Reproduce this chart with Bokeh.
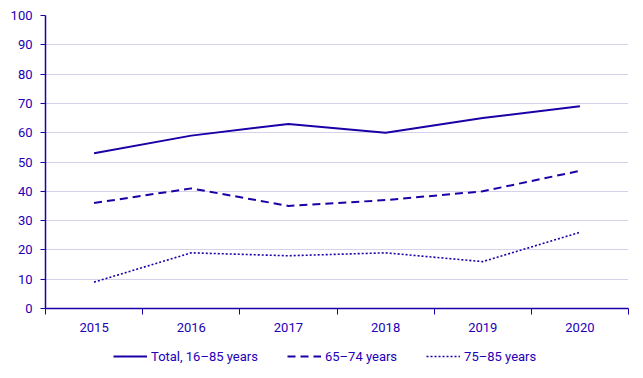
from bokeh.plotting import figure
from bokeh.models import FixedTicker, Legend, LegendItem, Range1d
from bokeh.layouts import column
from bokeh.embed import file_html
from bokeh.resources import INLINE

years = [2015, 2016, 2017, 2018, 2019, 2020]
total = [53, 59, 63, 60, 65, 69]
age_65_74 = [36, 41, 35, 37, 40, 47]
age_75_85 = [9, 19, 18, 19, 16, 26]
y_ticks = [0, 10, 20, 30, 40, 50, 60, 70, 80, 90, 100]
series_labels = ["Total, 16\u201385 years", "65\u201374 years", "75\u201385 years"]

TEXT = "#2200B8"
LINE = "#1A00A6"
FONT = "Roboto"
styles = [dict(line_width=2), dict(line_width=2, line_dash="8 5"), dict(line_width=1.6, line_dash="2 2")]
series = [total, age_65_74, age_75_85]

p = figure(width=635, height=340, output_backend="svg", toolbar_location=None,
           x_range=Range1d(years[0] - 0.5, years[-1] + 0.5), y_range=Range1d(0, 100),
           min_border_left=45, min_border_right=7, min_border_top=15, min_border_bottom=32)
p.outline_line_color = None
p.background_fill_color = "white"
p.border_fill_color = "white"

for vals, st in zip(series, styles):
    p.line(years, vals, line_color=LINE, **st)

xt = FixedTicker(ticks=years, minor_ticks=[y - 0.5 for y in years] + [years[-1] + 0.5])
p.xaxis.ticker = xt
p.xaxis.major_tick_out = 0
p.xaxis.major_tick_in = 0
p.xaxis.minor_tick_out = 6
p.xaxis.minor_tick_in = 0
p.xaxis.minor_tick_line_color = LINE
p.xaxis.major_label_standoff = 8
p.xgrid.grid_line_color = None

p.yaxis.ticker = FixedTicker(ticks=y_ticks)
p.yaxis.major_tick_out = 5
p.yaxis.major_tick_in = 0
p.yaxis.minor_tick_line_color = None
p.yaxis.major_label_standoff = 8
p.ygrid.grid_line_color = "#D4D2EA"
p.ygrid.grid_line_width = 1

for ax in (p.xaxis, p.yaxis):
    ax.axis_line_color = LINE
    ax.axis_line_width = 1.5
    ax.major_tick_line_color = LINE
    ax.major_label_text_color = TEXT
    ax.major_label_text_font = FONT
    ax.major_label_text_font_size = "13px"

# legend strip (series drawn off-range so only the legend samples show)
lg = figure(width=635, height=30, output_backend="svg", toolbar_location=None,
            x_range=Range1d(0, 1), y_range=Range1d(0, 1),
            min_border_left=0, min_border_right=0, min_border_top=0, min_border_bottom=0)
lg.axis.visible = False
lg.grid.visible = False
lg.outline_line_color = None
items = []
for lab, vals, st in zip(series_labels, series, styles):
    r = lg.line(years, vals, line_color=LINE, **st)
    items.append(LegendItem(label=lab, renderers=[r]))

legend = Legend(items=items, orientation="horizontal", location=(68, 4),
                label_text_font=FONT, label_text_font_size="13px", label_text_color=TEXT,
                glyph_width=34, glyph_height=20, label_height=20,
                label_standoff=4, spacing=29, border_line_color=None,
                background_fill_alpha=0, padding=0, margin=0)
lg.add_layout(legend, "center")

layout = column(p, lg, spacing=0)
open("out.html", "w").write(file_html(layout, INLINE))
